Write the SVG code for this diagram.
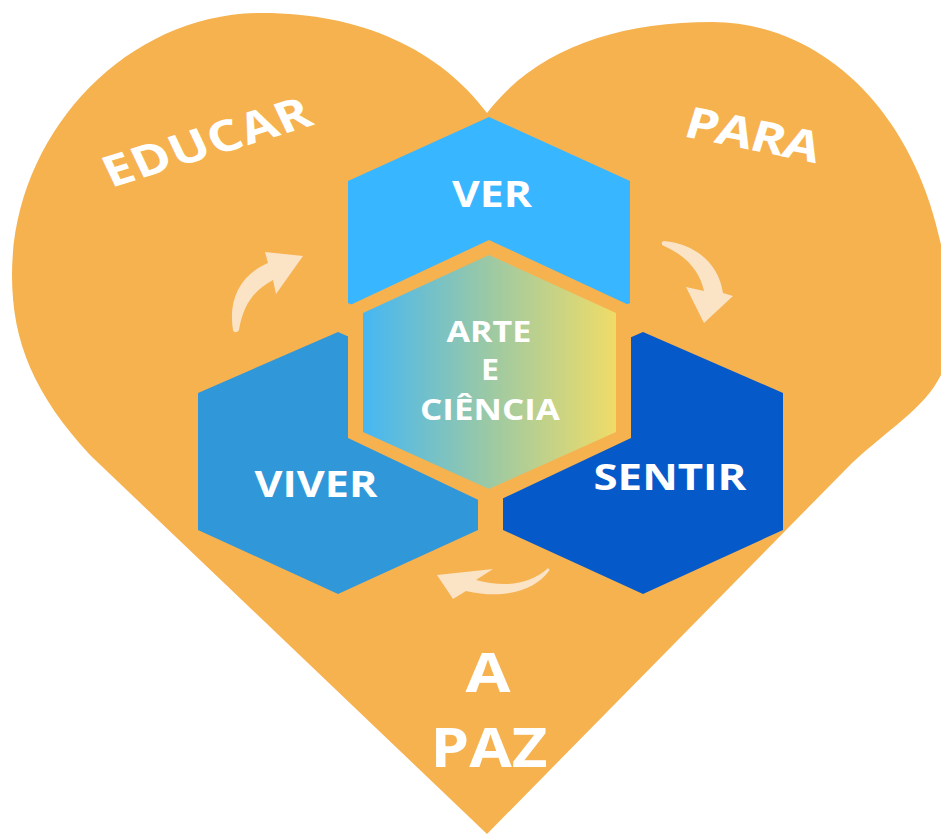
<svg xmlns="http://www.w3.org/2000/svg" width="941" height="834" viewBox="0 0 941 834">
  <defs>
    <linearGradient id="gradCenter" x1="0" y1="0" x2="1" y2="0">
      <stop offset="0" stop-color="#45B7F4"/>
      <stop offset="0.5" stop-color="#9CC9A4"/>
      <stop offset="1" stop-color="#EFDC68"/>
    </linearGradient>
    <style>
      .lbl { font-family: "Open Sans", "DejaVu Sans", sans-serif; font-weight: 700; fill: #FFFFFF; }
      .arrow { fill: #FBE3C6; }
    </style>
  </defs>
  <rect x="0" y="0" width="941" height="834" fill="#FFFFFF"/>

  <g id="heart">
    <path d="M 487 113 C 440 50, 362 13, 262 13 C 125 13, 12 135, 12 275 C 12 343, 35 395, 90 455 L 487 834 L 852 463 C 900 418, 950 395, 950 335 C 950 145, 840 22, 712 22 C 615 22, 535 50, 487 113 Z" fill="#F6B24F"/>
    <text class="lbl" transform="translate(111,188) scale(1.23,1) rotate(-21)" x="0" y="0" font-size="43" textLength="178" lengthAdjust="spacing">EDUCAR</text>
    <text class="lbl" transform="translate(682,136) scale(1.23,1) rotate(14)" x="0" y="0" font-size="43" textLength="112" lengthAdjust="spacing">PARA</text>
    <text class="lbl" x="488" y="692" font-size="54" text-anchor="middle" textLength="45" lengthAdjust="spacingAndGlyphs">A</text>
    <text class="lbl" x="489" y="767" font-size="54" text-anchor="middle" textLength="117" lengthAdjust="spacingAndGlyphs">PAZ</text>
  </g>

  <g id="node-ver">
    <polygon points="489,117 630,181 630,303 489,367 348,303 348,181" fill="#38B6FF"/>
    <text class="lbl" x="492" y="207" font-size="35" text-anchor="middle" textLength="80" lengthAdjust="spacingAndGlyphs">VER</text>
  </g>

  <g id="node-viver">
    <polygon points="338,332 478,393 478,530 338,594 198,530 198,393" fill="#3097D9"/>
    <text class="lbl" x="316" y="497" font-size="35" text-anchor="middle" textLength="123" lengthAdjust="spacingAndGlyphs">VIVER</text>
  </g>

  <g id="node-sentir">
    <polygon points="643,332 783,393 783,530 643,594 503,530 503,393" fill="#0659C9"/>
    <text class="lbl" x="670" y="490" font-size="35" text-anchor="middle" textLength="153" lengthAdjust="spacingAndGlyphs">SENTIR</text>
  </g>

  <g id="node-center">
    <polygon points="489,240 631,306 631,438 489,505 348,438 348,306" fill="#F6B24F"/>
    <polygon points="489,255 616,313 616,432 489,489 363,432 363,313" fill="url(#gradCenter)"/>
    <text class="lbl" x="489" y="342" font-size="28" text-anchor="middle" textLength="85" lengthAdjust="spacingAndGlyphs">ARTE</text>
    <text class="lbl" x="490" y="380" font-size="28" text-anchor="middle" textLength="18" lengthAdjust="spacingAndGlyphs">E</text>
    <text class="lbl" x="490" y="420" font-size="28" text-anchor="middle" textLength="140" lengthAdjust="spacingAndGlyphs">CIÊNCIA</text>
  </g>

  <g id="connectors">
    <path class="arrow" d="M 233 330 C 228 300, 240 275, 268 263 L 265 252 L 303 256 L 276 294 L 273 280 C 254 290, 243 305, 239 330 C 237 333, 234 333, 233 330 Z"/>
    <path class="arrow" d="M 664 241 C 697 244, 719 265, 723 293 L 733 296 L 704 323 L 686 287 L 704 291 C 700 272, 687 256, 664 246 C 661 245, 661 241, 664 241 Z"/>
    <path class="arrow" d="M 549 571 C 535 590, 505 600, 466 591 L 453 599 L 437 575 L 493 569 L 476 580 C 505 588, 530 584, 547 569 C 549 568, 550 569, 549 571 Z"/>
  </g>
</svg>
